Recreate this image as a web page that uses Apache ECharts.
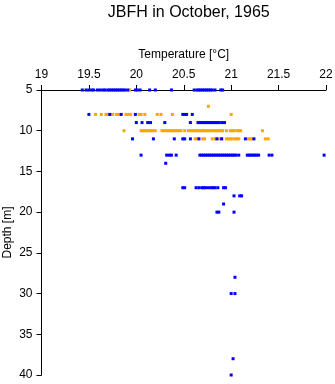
<!DOCTYPE html>
<html>
<head>
<meta charset="utf-8">
<script src="https://cdn.jsdelivr.net/npm/echarts@6/dist/echarts.min.js"></script>
<style>
html,body{margin:0;padding:0;background:#fff;}
#chart{width:335px;height:384px;}
</style>
</head>
<body>
<div id="chart"></div>
<script>
// Tick values
const xTicks = [19, 19.5, 20, 20.5, 21, 21.5, 22];
const yTicks = [5, 10, 15, 20, 25, 30, 35, 40];

// Blue readings: temperature (°C) by depth (m)
const blueD5 = [19.43, 19.47, 19.5, 19.53, 19.55, 19.59, 19.62, 19.65, 19.67, 19.7, 19.72, 19.74, 19.76, 19.78, 19.8, 19.82, 19.84, 19.86, 19.88, 19.91, 19.99, 20.01, 20.04, 20.14, 20.2, 20.37, 20.61, 20.64, 20.66, 20.68, 20.7, 20.72, 20.74, 20.76, 20.78, 20.8, 20.83, 20.89, 20.91];
const blueD8 = [19.5, 19.72, 19.84, 19.99, 20.49, 20.51, 20.53, 20.59];
const blueD9 = [20.0, 20.06, 20.12, 20.15, 20.3, 20.57, 20.65, 20.67, 20.69, 20.71, 20.73, 20.75, 20.77, 20.79, 20.81, 20.83, 20.85, 20.87, 20.9, 20.93];
const blueD11 = [19.96, 20.18, 20.4, 20.49, 20.51, 20.57, 20.66, 20.85, 20.9, 21.15, 21.24];
const blueD13 = [20.05, 20.32, 20.35, 20.37, 20.42, 20.67, 20.69, 20.71, 20.73, 20.75, 20.77, 20.79, 20.81, 20.83, 20.85, 20.87, 20.89, 20.91, 20.93, 20.95, 20.97, 20.99, 21.01, 21.03, 21.05, 21.08, 21.17, 21.19, 21.21, 21.23, 21.25, 21.27, 21.29, 21.4, 21.43, 21.98];
const blueD14 = [20.31];
const blueD17 = [20.49, 20.51, 20.63, 20.66, 20.69, 20.71, 20.73, 20.76, 20.79, 20.81, 20.83, 20.86, 20.92, 20.94];
const blueD18 = [21.03, 21.09, 21.11];
const blueD19 = [20.92];
const blueD20 = [20.85, 20.87, 21.03];
const blueD28 = [21.04];
const blueD30 = [21.0, 21.04];
const blueD38 = [21.02];
const blueD40 = [21.0];

// Orange readings
const orangeD5 = [19.93];
const orangeD7 = [20.76];
const orangeD8 = [19.57, 19.63, 19.68, 19.7, 19.73, 19.75, 19.79, 19.81, 19.84, 19.89, 19.91, 19.94, 20.03, 20.05, 20.09, 20.22, 20.26, 20.38, 21.0];
const orangeD10 = [19.87, 20.05, 20.07, 20.09, 20.11, 20.13, 20.15, 20.17, 20.2, 20.27, 20.29, 20.31, 20.33, 20.35, 20.37, 20.39, 20.41, 20.43, 20.45, 20.47, 20.51, 20.55, 20.57, 20.59, 20.61, 20.63, 20.65, 20.67, 20.69, 20.71, 20.73, 20.75, 20.77, 20.79, 20.81, 20.83, 20.85, 20.87, 20.89, 20.91, 20.95, 20.99, 21.01, 21.03, 21.06, 21.08, 21.1, 21.33];
const orangeD11 = [20.62, 20.64, 20.7, 20.72, 20.8, 20.83, 20.88, 20.9, 20.95, 20.97, 20.99, 21.01, 21.04, 21.06, 21.08, 21.18, 21.2, 21.22, 21.36, 21.39];

const blueSets = [[5, blueD5], [8, blueD8], [9, blueD9], [11, blueD11], [13, blueD13], [14, blueD14], [17, blueD17], [18, blueD18], [19, blueD19], [20, blueD20], [28, blueD28], [30, blueD30], [38, blueD38], [40, blueD40]];
const orangeSets = [[5, orangeD5], [7, orangeD7], [8, orangeD8], [10, orangeD10], [11, orangeD11]];

function toPairs(sets) {
  const out = [];
  sets.forEach(function (s) { s[1].forEach(function (t) { out.push([t, s[0]]); }); });
  return out;
}

const font = 'Liberation Sans, Arial, Helvetica, sans-serif';
const chart = echarts.init(document.getElementById('chart'), null, {renderer: 'canvas'});
chart.setOption({
  animation: false,
  backgroundColor: '#ffffff',
  title: {
    text: 'JBFH in October, 1965',
    left: 183.75, top: 0, textAlign: 'center',
    textStyle: {fontFamily: font, fontSize: 16, fontWeight: 'normal', color: '#000'}
  },
  grid: {left: 41.5, right: 9, top: 90, bottom: 9, containLabel: false, outerBoundsMode: 'none'},
  xAxis: {
    type: 'value', position: 'top',
    min: xTicks[0], max: xTicks[xTicks.length - 1], interval: 0.5,
    name: 'Temperature [°C]', nameLocation: 'middle', nameGap: 29, nameMoveOverlap: false,
    nameTextStyle: {fontFamily: font, fontSize: 12, color: '#000'},
    axisLine: {show: true, lineStyle: {color: '#000', width: 1}},
    axisTick: {show: true, length: 5, lineStyle: {color: '#000'}},
    axisLabel: {fontFamily: font, fontSize: 12, color: '#000', margin: 9},
    splitLine: {show: false}
  },
  yAxis: {
    type: 'value', inverse: true,
    min: yTicks[0], max: yTicks[yTicks.length - 1], interval: 5,
    name: 'Depth [m]', nameLocation: 'middle', nameGap: 28, nameRotate: 90, nameMoveOverlap: false,
    nameTextStyle: {fontFamily: font, fontSize: 12, color: '#000'},
    axisLine: {show: true, lineStyle: {color: '#000', width: 1}},
    axisTick: {show: true, length: 5, lineStyle: {color: '#000'}},
    axisLabel: {fontFamily: font, fontSize: 12, color: '#000', margin: 9},
    splitLine: {show: false}
  },
  series: [
    {type: 'scatter', symbol: 'rect', symbolSize: 3, clip: false,
     itemStyle: {color: '#FFA500', opacity: 1}, data: toPairs(orangeSets)},
    {type: 'scatter', symbol: 'rect', symbolSize: 3, clip: false,
     itemStyle: {color: '#0000FF', opacity: 1}, data: toPairs(blueSets)}
  ]
});
</script>
</body>
</html>
